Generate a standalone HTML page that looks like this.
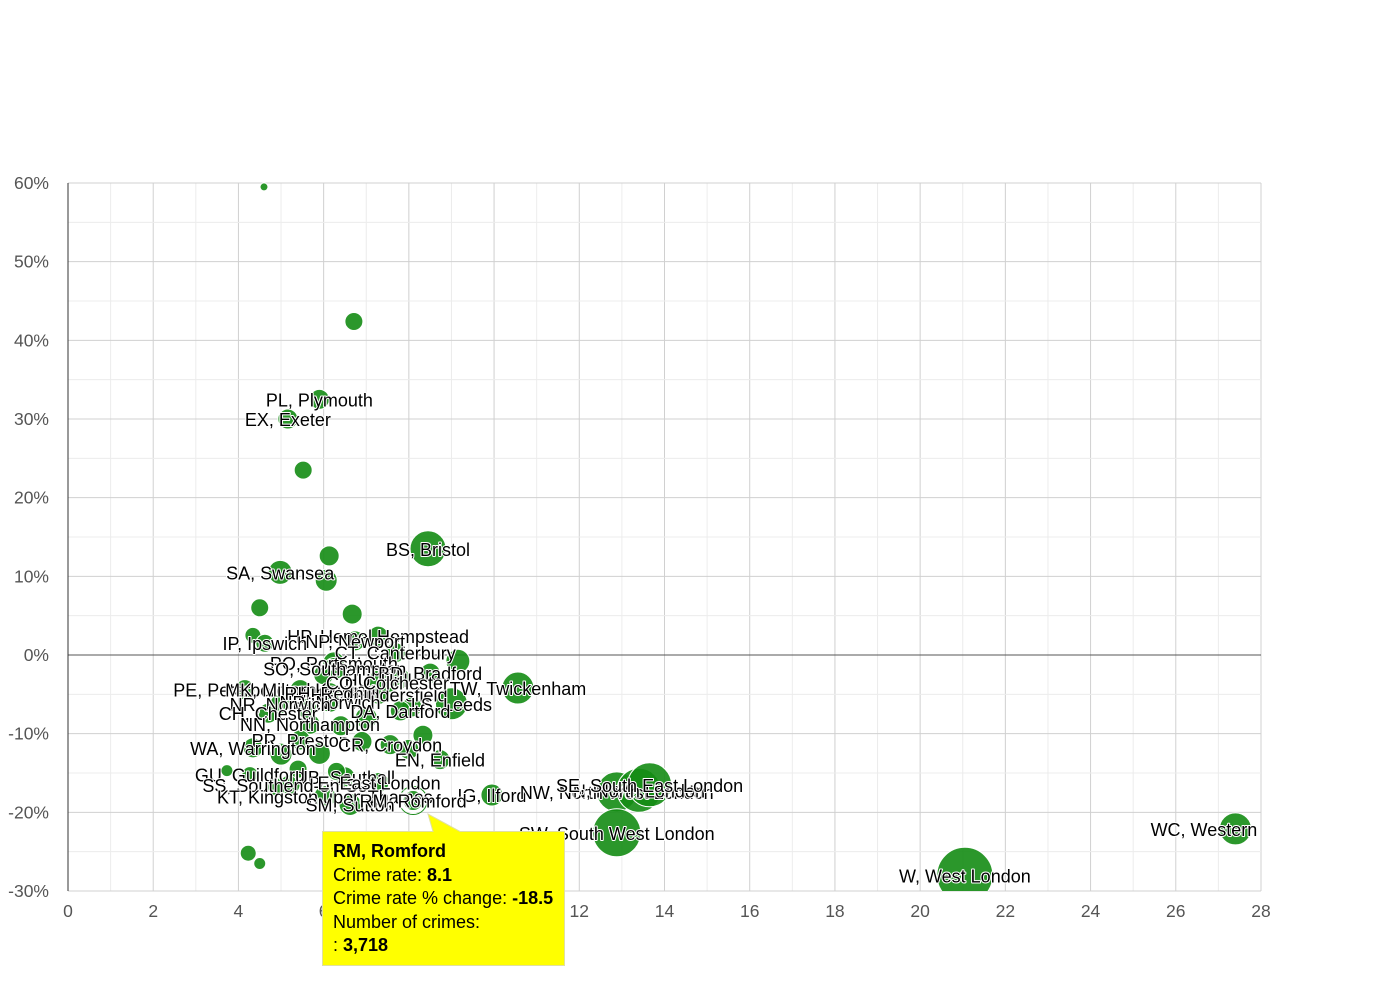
<!DOCTYPE html>
<html><head><meta charset="utf-8">
<style>
html,body{margin:0;padding:0;background:#fff;}
svg text{font-family:"Liberation Sans",Arial,sans-serif;}
</style></head>
<body>
<svg id="chart" width="1390" height="980" viewBox="0 0 1390 980" xmlns="http://www.w3.org/2000/svg">
<defs><clipPath id="plotclip"><rect x="68" y="170" width="1193" height="721"/></clipPath></defs>
<g id="grid"></g>
<g id="axes"></g>
<g id="points" clip-path="url(#plotclip)"></g>
<g id="labels" clip-path="url(#plotclip)"></g>
<g id="tooltip">
  <path d="M322.5 831.5 H433 L428 814 L460 831.5 H564.5 V965.5 H322.5 Z" fill="#ffff00" stroke="#e0e0a0" stroke-width="1"/>
  <text x="333" y="857" font-size="18" font-weight="bold">RM, Romford</text>
  <text x="333" y="881" font-size="18">Crime rate: <tspan font-weight="bold">8.1</tspan></text>
  <text x="333" y="904" font-size="18">Crime rate % change: <tspan font-weight="bold">-18.5</tspan></text>
  <text x="333" y="928" font-size="18">Number of crimes:</text>
  <text x="333" y="951" font-size="18">: <tspan font-weight="bold">3,718</tspan></text>
</g>
</svg>
<script>
const xValues=[4.6,6.71,5.9,5.16,5.52,8.45,6.13,4.98,6.06,4.5,6.67,4.34,7.28,4.62,6.74,9.15,7.68,6.24,6.26,8.5,7.28,10.56,4.15,5.45,7.3,6.15,9.0,8.07,6.15,4.98,7.8,4.7,5.68,6.4,8.33,5.45,4.34,7.56,8.73,3.73,4.27,6.5,5.21,7.3,9.95,6.03,6.62,8.1,12.88,13.4,13.65,12.88,27.4,21.05,4.23,4.5,5.0,5.9,6.9,7.5,7.0,5.4,6.3,4.9,8.0,7.8,6.0,5.6];
const yValues=[59.5,42.4,32.5,30,23.5,13.5,12.6,10.5,9.5,6,5.2,2.5,2.4,1.5,1.8,-0.8,0.3,-1,-1.7,-2.3,-3.2,-4.2,-4.4,-4.4,-5,-4.8,-6.2,-6.6,-6,-6.2,-7.1,-7.4,-8.8,-9,-10.2,-10.8,-11.8,-11.4,-13.3,-14.7,-15.2,-15.5,-16.5,-16.2,-17.8,-18,-19,-18.5,-17.4,-17.2,-16.5,-22.6,-22.1,-28,-25.2,-26.5,-12.6,-12.5,-11.0,-3.5,-8.0,-14.5,-14.8,-16.8,-12.0,-3.0,-2.5,-6.8];
const sizes=[4,9,10,10,9,18,10,12,11,9,10,8,10,9,10,12,10,11,11,10,10,16,10,10,10,10,16,10,10,10,10,10,10,10,10,10,10,10,10,6,8,10,10,10,11,11,11,11,20,22,22,24,16,28,8,6,11,11,10,10,11,9,9,9,10,10,10,10];
const pointLabels=["","","PL, Plymouth","EX, Exeter","","BS, Bristol","","SA, Swansea","","","","","HP, Hemel Hempstead","IP, Ipswich","NP, Newport","","CT, Canterbury","PO, Portsmouth","SO, Southampton","BD, Bradford","HU, Hull","TW, Twickenham","PE, Peterborough","MK, Milton Keynes","HD, Huddersfield","RH, Redhill","LS, Leeds","","NR, Norwich","NR, Norwich","DA, Dartford","CH, Chester","NN, Northampton","","","PR, Preston","WA, Warrington","CR, Croydon","EN, Enfield","","GU, Guildford","UB, Southall","SS, Southend-on-Sea","E, East London","IG, Ilford","KT, Kingston upon Thames","SM, Sutton","RM, Romford","NW, North West London","N, North London","SE, South East London","SW, South West London","WC, Western Central","W, West London","","","","","","CO, Colchester","","","","","","","",""];
const xTicks=[0,2,4,6,8,10,12,14,16,18,20,22,24,26,28];
const yTicks=[60,50,40,30,20,10,0,-10,-20,-30];

const L=68,R=1261,T=183,B=891,xMin=0,xMax=28,yMin=-30,yMax=60;
const sx=v=>L+(v-xMin)/(xMax-xMin)*(R-L);
const sy=v=>B-(v-yMin)/(yMax-yMin)*(B-T);
const NS="http://www.w3.org/2000/svg";
function mk(tag,attrs,parent){const e=document.createElementNS(NS,tag);for(const k in attrs)e.setAttribute(k,attrs[k]);parent.appendChild(e);return e;}
const grid=document.getElementById('grid'),axes=document.getElementById('axes'),pts=document.getElementById('points'),lbl=document.getElementById('labels');
for(let v=xMin;v<=xMax;v+=1){const l=mk('line',{x1:sx(v),x2:sx(v),y1:T,y2:B,stroke:v%2?'#ececec':'#d0d0d0','stroke-width':1},grid);

}
for(let v=yMin;v<=yMax;v+=5){const l=mk('line',{x1:L,x2:R,y1:sy(v),y2:sy(v),stroke:v%10?'#ececec':'#d0d0d0','stroke-width':1},grid);

}
const zl=mk('line',{x1:L,x2:R,y1:sy(0),y2:sy(0),stroke:'#555','stroke-width':1},axes);


const ya=mk('line',{x1:L,x2:L,y1:T,y2:B,stroke:'#333','stroke-width':1},axes);


xTicks.forEach(v=>{const t=mk('text',{x:sx(v),y:917,'font-size':17.5,fill:'#555','text-anchor':'middle'},axes);t.textContent=v;

});
yTicks.forEach(v=>{const t=mk('text',{x:49,y:sy(v)+6,'font-size':17.5,fill:'#555','text-anchor':'end'},axes);t.textContent=v+'%';

});
xValues.forEach((x,i)=>{
  const c=mk('circle',{cx:sx(x),cy:sy(yValues[i]),r:sizes[i],fill:'rgba(20,140,20,0.9)',stroke:'#fff','stroke-width':1},pts);
  
  
  if(pointLabels[i]==="RM, Romford"){c.setAttribute('stroke-width',3);
    const h=mk('circle',{cx:sx(x),cy:sy(yValues[i]),r:sizes[i]+3,fill:'none',stroke:'#1a8a1a','stroke-width':1},pts);
    
    }
});
xValues.forEach((x,i)=>{
  if(!pointLabels[i])return;
  const t=mk('text',{x:sx(x),y:sy(yValues[i])+7,'font-size':18,fill:'#000','text-anchor':'middle',stroke:'#fff','stroke-width':2,'paint-order':'stroke','stroke-linejoin':'round'},lbl);
  t.textContent=pointLabels[i];
  
  
});
</script>
</body></html>
